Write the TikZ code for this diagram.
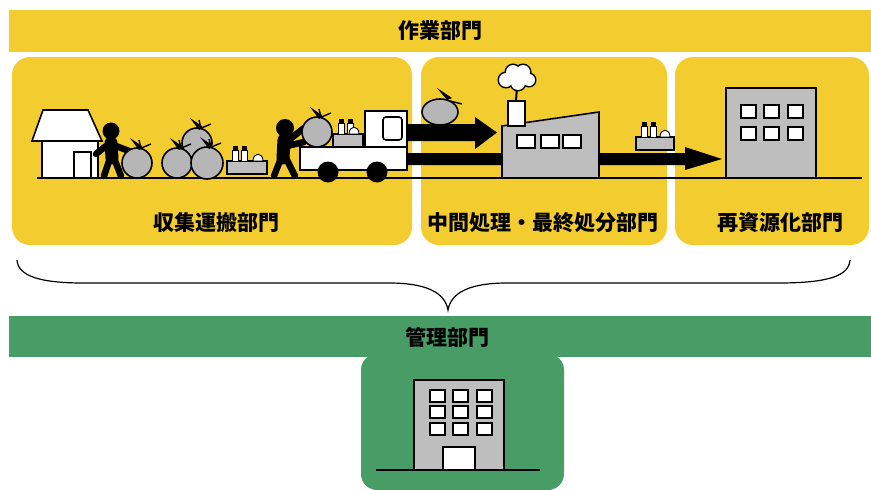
\documentclass[tikz,border=0pt]{standalone}
\usepackage{fontspec}
\newfontfamily\jpfont{Noto Sans CJK JP}
\usepackage{tikz}
\usetikzlibrary{calc}

\definecolor{workyellow}{RGB}{243,205,48}
\definecolor{admgreen}{RGB}{72,157,103}
\definecolor{boxgray}{RGB}{190,190,190}
\definecolor{baggray}{RGB}{182,182,182}

\begin{document}
\begin{tikzpicture}[x=1pt,y=-1pt,
        label/.style={font=\jpfont\bfseries\fontsize{21}{21}\selectfont, inner sep=0pt},
        panel/.style={fill=workyellow, rounded corners=18pt},
        outline/.style={draw=black, line width=1.6pt},
        thinline/.style={draw=black, line width=0.9pt},
        limb/.style={line width=6.5pt, line cap=round, line join=round}]
    \useasboundingbox (0,0) rectangle (871,490);

    % Garbage bag: centre x, centre y, radius
    \def\bag#1#2#3{
        \draw[outline, fill=baggray] (#1,#2) circle (#3);
        \fill (#1+2,#2-#3+2) -- (#1-7,#2-#3-10) -- (#1+5,#2-#3-2) -- cycle;
        \draw[line width=1.4pt] (#1+2,#2-#3+1) -- (#1+14,#2-#3-4);
        \draw[line width=1.4pt] (#1+4,#2-#3) -- (#1+2,#2-#3-8);
    }
    % Crate of bottles: left x, top y, width
    \def\crate#1#2#3{
        \draw[outline, fill=boxgray] (#1,#2) rectangle ++(#3,13);
        \draw[thinline, fill=white] (#1+5,#2) rectangle (#1+11,#2-11);
        \fill (#1+5.5,#2-11) rectangle (#1+10.5,#2-15);
        \draw[thinline, fill=white] (#1+14,#2) rectangle (#1+20,#2-11);
        \fill (#1+14.5,#2-11) rectangle (#1+19.5,#2-15);
        \draw[thinline, fill=white] (#1+#3-14,#2) .. controls (#1+#3-14,#2-9) and (#1+#3-4,#2-9) .. (#1+#3-4,#2) -- cycle;
    }

    % Work departments
    \fill[workyellow] (9,10) rectangle (871,52);
    \node[label] (work) at (440,31) {作業部門};

    \fill[panel] (12,57) rectangle (412,245);
    \fill[panel] (421,57) rectangle (667,245);
    \fill[panel] (675,57) rectangle (869,245);

    \node[label] (collect) at (216,223) {収集運搬部門};
    \node[label] (treat) at (543,223) {中間処理・最終処分部門};
    \node[label] (recycle) at (780,223) {再資源化部門};

    % Ground
    \draw[line width=1.6pt] (37,178) -- (862,178);

    % House
    \draw[outline, fill=white] (32,141) -- (43,110) -- (88,110) -- (102,141) -- cycle;
    \draw[outline, fill=white] (42,141) rectangle (98,178);
    \draw[outline, fill=white] (74,152) rectangle (91,178);

    % First worker
    \fill (111,131) circle (8.5);
    \draw[line width=13pt, line cap=round] (111,143) -- (112,158);
    \draw[limb] (110,158) -- (104,176) (114,158) -- (121,176);
    \draw[limb] (106,146) -- (96,154) (116,146) -- (129,151);
    \bag{137}{163}{15}

    % Pile of bags
    \bag{197}{143}{15}
    \bag{177}{163}{15}
    \bag{207}{163}{16}
    \crate{227}{161}{40}

    % Arrows to the plant
    \fill (407,124) -- (475,124) -- (475,117) -- (497,132.5) -- (475,149) -- (475,141) -- (407,141) -- cycle;
    \fill (407,153) -- (685,153) -- (685,147) -- (722,159) -- (685,170) -- (685,165) -- (407,165) -- cycle;

    % Second worker and truck
    \fill (285,128) circle (9);
    \draw[line width=13pt, line cap=round] (284,140) -- (283,158);
    \draw[limb] (281,158) -- (274,176) (286,158) -- (295,176);
    \draw[limb] (289,140) -- (304,128) (287,146) -- (304,142);
    \draw[outline, fill=white] (300,147) rectangle (407,170);
    \draw[outline, fill=white] (365,111) rectangle (407,147);
    \draw[outline, rounded corners=3pt] (383,117) rectangle (402,140);
    \fill (328,172) circle (10.5);
    \fill (377,172) circle (10.5);
    \crate{333}{134}{30}
    \bag{317}{132}{15}

    % Bag carried in
    \draw[outline, fill=baggray] (440,112) ellipse (18 and 13);
    \fill (447,100) -- (437,88) -- (452,98) -- cycle;
    \draw[line width=1.4pt] (446,100) -- (462,104);

    % Plant
    \draw[outline, fill=boxgray] (502,178) -- (502,126) -- (599,112) -- (599,178) -- cycle;
    \draw[outline, fill=white] (508,101) rectangle (525,126);
    \draw[line width=2pt] (517,86) -- (516,101);
    \foreach \cx/\cy/\r in {506/80/7, 513/72/7, 523/72/7, 529/80/6, 518/83/7}
        \draw[line width=3pt] (\cx,\cy) circle (\r);
    \foreach \cx/\cy/\r in {506/80/7, 513/72/7, 523/72/7, 529/80/6, 518/83/7}
        \fill[white] (\cx,\cy) circle (\r);
    \foreach \x in {517,541,563}
        \draw[outline, fill=white] (\x,135) rectangle ++(18,13);
    \crate{636}{137}{38}

    % Recycling facility
    \draw[outline, fill=boxgray] (726,88) rectangle (816,178);
    \foreach \x in {741,764,788}
        \foreach \y in {105,127}
            \draw[outline, fill=white] (\x,\y) rectangle ++(15,13);

    % Brace
    \draw[line width=1.2pt] (17,260) .. controls (18,276) and (40,283) .. (83,283) -- (389,283)
        .. controls (425,283) and (445,292) .. (448,310)
        .. controls (451,292) and (471,283) .. (507,283) -- (778,283)
        .. controls (828,283) and (849,276) .. (850,260);

    % Administration
    \fill[admgreen] (9,316) rectangle (871,357);
    \node[label] (admin) at (447,337) {管理部門};
    \fill[admgreen, rounded corners=16pt] (361,354) rectangle (564,490);

    % Office building
    \draw[outline, fill=boxgray] (414,380) rectangle (504,470);
    \foreach \x in {430,453,477}
        \foreach \y in {390,406,423}
            \draw[thinline, line width=1.4pt, fill=white] (\x,\y) rectangle ++(15,12);
    \draw[thinline, line width=1.4pt, fill=white] (443,447) rectangle (475,470);
    \draw[line width=1.6pt] (376,470) -- (540,470);
\end{tikzpicture}
\end{document}
